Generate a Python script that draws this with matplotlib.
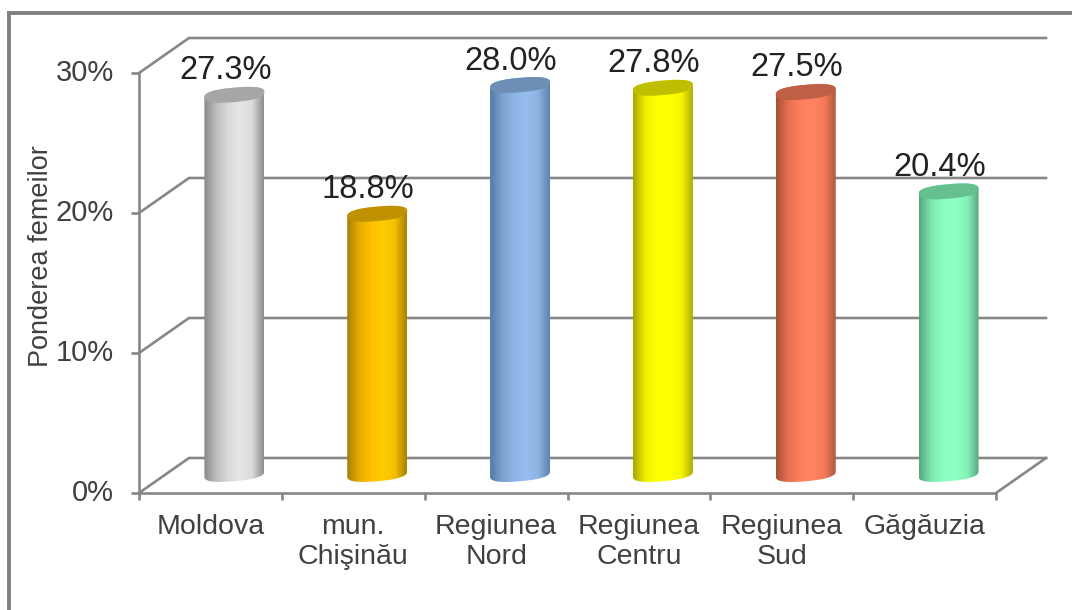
import numpy as np
import matplotlib
matplotlib.use("Agg")
import matplotlib.pyplot as plt
from matplotlib.colors import LinearSegmentedColormap
from matplotlib.lines import Line2D
from matplotlib.patches import Polygon
from matplotlib.transforms import ScaledTranslation

categories = ["Moldova", "mun.\nChişinău", "Regiunea\nNord", "Regiunea\nCentru", "Regiunea\nSud", "Găgăuzia"]
values = [27.3, 18.8, 28.0, 27.8, 27.5, 20.4]
y_ticks = [0, 10, 20, 30]
y_title = "Ponderea femeilor"
body_stops = [
    ["#888888", "#bdbdbd", "#d9d9d9", "#e6e6e6", "#dcdcdc", "#8f8f8f"],
    ["#a87f00", "#e6ad00", "#ffc000", "#ffcc00", "#f5c000", "#a88000"],
    ["#557aa5", "#7ba2d0", "#8db4e2", "#95bdee", "#8db4e2", "#5f83ad"],
    ["#a8a800", "#eeee00", "#ffff00", "#ffff00", "#f5f500", "#a8a800"],
    ["#a84f38", "#e87050", "#ff7f5c", "#ff8464", "#f57a58", "#a85640"],
    ["#55a57e", "#7ee8b0", "#8affbe", "#8effc2", "#84f5b8", "#5aa882"],
]
cap_colors = ["#a6a6a6", "#bf9000", "#6e8fb5", "#bfbf00", "#bf5f46", "#66bf8f"]

GRAY = "#878787"
TEXT_GRAY = "#404040"
plt.rcParams["font.family"] = ["Liberation Sans", "DejaVu Sans"]

W, H = 1072, 610
fig = plt.figure(figsize=(W / 100, H / 100), dpi=100, facecolor="white")
ax = fig.add_axes([139 / W, (H - 493) / H, 857 / W, 420 / H], facecolor="none")
n = len(categories)
ax.set_xlim(0, n)
ax.set_ylim(0, 30)

# pixel scale of the data axes, and the 3D depth expressed in data units
PX = 857 / n
PY = 14.0
DX = 50 / PX
DY = 35 / PY

# frame round the picture
frame_kw = dict(color="#808080", lw=2.8, transform=fig.transFigure)
fig.add_artist(Line2D([9 / W, 9 / W], [0, 1 - 13 / H], **frame_kw))
fig.add_artist(Line2D([9 / W, 1], [1 - 13 / H, 1 - 13 / H], **frame_kw))

# walls and floor of the 3D box
for t in y_ticks:
    ax.plot([0, DX, n + DX], [t, t + DY, t + DY], color=GRAY, lw=1.9, clip_on=False,
            zorder=1, solid_joinstyle="miter")
ax.plot([n, n + DX], [0, DY], color=GRAY, lw=1.9, clip_on=False, zorder=1)

for s in ("top", "right"):
    ax.spines[s].set_visible(False)
for s in ("left", "bottom"):
    ax.spines[s].set_color(GRAY)
    ax.spines[s].set_linewidth(1.9)

ax.set_yticks(y_ticks)
ax.set_yticklabels([f"{t}%" for t in y_ticks], fontsize=21, color=TEXT_GRAY)
ax.tick_params(axis="y", length=6, width=1.9, color=GRAY, pad=12)
lift = ScaledTranslation(0, 3 / 100, fig.dpi_scale_trans)
for lab in ax.get_yticklabels():
    lab.set_transform(lab.get_transform() + lift)
ax.set_xticks(range(n + 1))
ax.set_xticklabels([])
ax.tick_params(axis="x", which="major", length=5, width=1.9, color=GRAY)
ax.set_xticks(np.arange(n) + 0.5, minor=True)
ax.set_xticklabels(categories, minor=True, fontsize=20.5, color=TEXT_GRAY, linespacing=1.22)
ax.tick_params(axis="x", which="minor", length=0, pad=15)
fig.text(41 / W, 1 - 256 / H, y_title, rotation=90, fontsize=19.5, color=TEXT_GRAY,
         ha="center", va="center")


def ellipse(cx, cy, t):
    """Tilted, slightly squared end of a cylinder, returned in data units."""
    a, b, tilt = 30.0, 7.2, np.radians(5)
    c, s = np.cos(t), np.sin(t)
    ex = a * np.sign(c) * np.abs(c) ** 0.8
    ey = b * np.sign(s) * np.abs(s) ** 0.8
    yy = ey + ex * np.tan(tilt)
    return np.column_stack([cx + ex / PX, cy + yy / PY])


base = DY / 2 - 1.5 / PY
foot = base + 3 / PY
for i, (v, stops, cap) in enumerate(zip(values, body_stops, cap_colors)):
    cx = i + 0.5 + DX / 2 - 1 / PX
    top = base + v
    lower = ellipse(cx, foot, np.linspace(np.pi, 2 * np.pi, 60))
    upper = ellipse(cx, top, np.linspace(0, np.pi, 60))
    body = Polygon(np.vstack([lower, upper]), closed=True, transform=ax.transData,
                   fc="none", ec="none")
    cmap = LinearSegmentedColormap.from_list(f"c{i}", stops)
    im = ax.imshow(np.linspace(0, 1, 128)[None, :], cmap=cmap, aspect="auto",
                   extent=[cx - 30 / PX, cx + 30 / PX, base - 1, top + 1],
                   interpolation="bilinear", zorder=3)
    ax.add_patch(body)
    im.set_clip_path(body)
    cap_pts = ellipse(cx, top, np.linspace(0, 2 * np.pi, 120))
    ax.add_patch(Polygon(cap_pts, closed=True, fc=cap, ec="none", zorder=4, clip_on=False))
    ax.text(cx - 9 / PX, top + 24 / PY, f"{v:.1f}%", fontsize=23.5, color="#222222",
            ha="center", va="center", zorder=5, clip_on=False)

ax.set_xlim(0, n)
ax.set_ylim(0, 30)
fig.savefig("out.png", dpi=100, facecolor="white")
